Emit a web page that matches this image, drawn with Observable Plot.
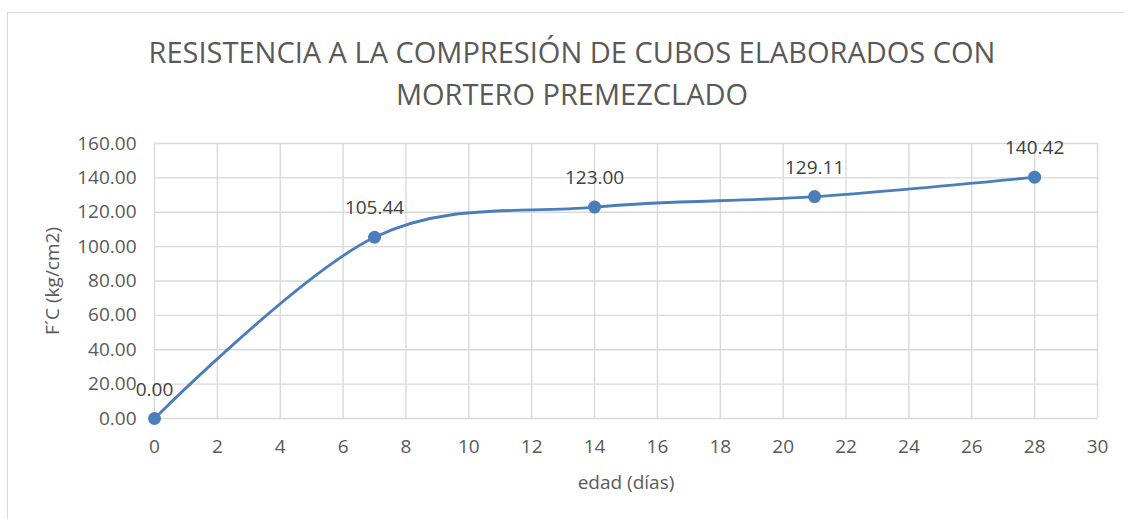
<!DOCTYPE html>
<html>
<head>
<meta charset="utf-8">
<script src="https://cdn.jsdelivr.net/npm/d3@7"></script>
<script src="https://cdn.jsdelivr.net/npm/@observablehq/plot@0.6"></script>
<style>
  html, body { margin: 0; padding: 0; background: #fff; }
  #wrap { position: relative; width: 1124px; height: 519px; overflow: hidden; }
  #frame { position: absolute; left: 7px; top: 12px; width: 1300px; height: 700px; border: 1.5px solid #d9d9d9; pointer-events: none; }
  #title { position: absolute; left: 0; width: 1144px; top: 31px; text-align: center; font-family: "Open Sans", sans-serif; font-size: 29px; line-height: 42px; color: #595959; }
  #chart { position: absolute; left: 0; top: 0; }
</style>
</head>
<body>
<div id="wrap">
  <div id="frame"></div>
  <div id="chart"></div>
  <div id="title">RESISTENCIA A LA COMPRESIÓN DE CUBOS ELABORADOS CON<br>MORTERO PREMEZCLADO</div>
</div>
<script>
const edad = [0, 7, 14, 21, 28];
const resistencia = [0.00, 105.44, 123.00, 129.11, 140.42];
const xTicks = d3.range(0, 31, 2);
const yTicks = d3.range(0, 161, 20);

const data = edad.map((e, i) => ({edad: e, fc: resistencia[i]}));
const lineColor = "#4a7ebb";

const chart = Plot.plot({
  width: 1124,
  height: 519,
  marginLeft: 154,
  marginRight: 27,
  marginTop: 143,
  marginBottom: 101,
  style: {fontFamily: "Open Sans, sans-serif", fontSize: "19px", color: "#595959", background: "transparent"},
  x: {domain: [0, 30]},
  y: {domain: [0, 160]},
  marks: [
    Plot.gridX(xTicks, {stroke: "#d9d9d9", strokeOpacity: 1, strokeWidth: 1.4}),
    Plot.gridY(yTicks, {stroke: "#d9d9d9", strokeOpacity: 1, strokeWidth: 1.4}),
    Plot.axisX({ticks: xTicks, tickSize: 0, tickPadding: 21, fill: "#595959", fontSize: 19,
      label: "edad (días)", labelAnchor: "center", labelArrow: "none", labelOffset: 70}),
    Plot.axisY({ticks: yTicks, tickSize: 0, tickPadding: 18, fill: "#595959", fontSize: 19,
      tickFormat: d => d.toFixed(2),
      label: "F´C (kg/cm2)", labelAnchor: "center", labelArrow: "none", labelOffset: 109}),
    Plot.line(data, {x: "edad", y: "fc", stroke: lineColor, strokeWidth: 2.8, curve: d3.curveCatmullRom.alpha(0)}),
    Plot.dot(data, {x: "edad", y: "fc", r: 6.5, fill: lineColor, stroke: "none"}),
    Plot.text(data, {x: "edad", y: "fc", text: d => d.fc.toFixed(2), dy: -29, fill: "#404040", fontSize: 19})
  ]
});
document.getElementById("chart").appendChild(chart);
</script>
</body>
</html>
